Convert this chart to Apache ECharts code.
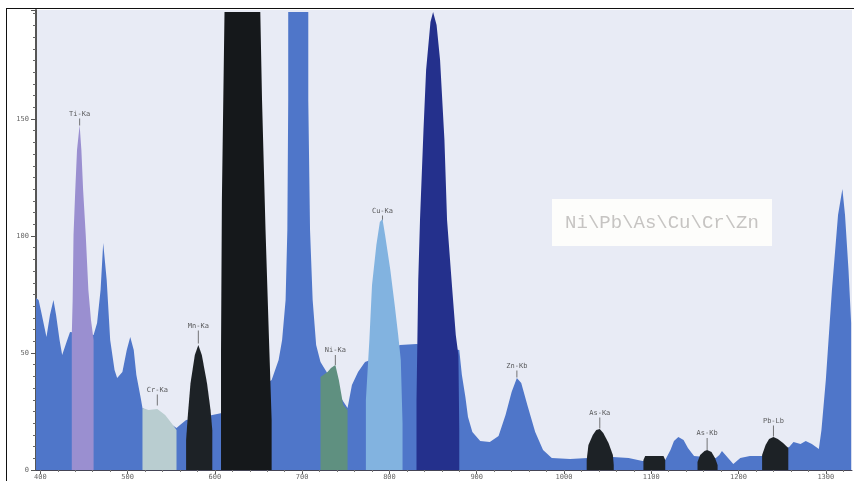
<!DOCTYPE html>
<html><head><meta charset="utf-8">
<script src="https://cdn.jsdelivr.net/npm/echarts@6/dist/echarts.min.js"></script>
<style>html,body{margin:0;padding:0;background:#fff}#c{width:854px;height:481px}
#f{position:absolute;left:6px;top:8px;right:0;bottom:0;border-left:1px solid #111;border-top:1px solid #111;pointer-events:none}</style>
</head><body><div id="c"></div><div id="f"></div>
<script>
const xTickLabels=[400,500,600,700,800,900,1000,1100,1200,1300];
const xMinorTicks=[400,420,440,460,480,500,520,540,560,580,600,620,640,660,680,700,720,740,760,780,800,820,840,860,880,900,920,940,960,980,1000,1020,1040,1060,1080,1100,1120,1140,1160,1180,1200,1220,1240,1260,1280,1300,1320];
const background=[[395,73.5],[398,72.7],[401,67.5],[407,56.8],[411,66.2],[415,72.7],[418,66.2],[422,55.6],[425,49.2],[430,54.7],[434,59],[461,57.7],[465,62.8],[469,76.9],[472,97],[476,81.2],[480,55.6],[485,42.7],[488,39.3],[494,41.9],[499,51.3],[503,56.8],[507,51.3],[510,40.6],[515,30.8],[517,26.5],[526,24.8],[543,21.4],[556,18],[560,19.2],[567,21.4],[583,22.2],[597,23.5],[608,24.4],[665,38.5],[673,47],[677,55.6],[681,72.7],[683,102.6],[684,158],[684,195.7],[707,195.7],[707,158],[709,102.6],[712,72.7],[716,53.4],[721,46.2],[728,41.9],[738,33.3],[746,29.9],[752,26.5],[757,36.3],[764,41.9],[772,46.2],[784,47.9],[812,53.4],[831,53.9],[880,51.3],[883,40.6],[887,31.2],[890,22.7],[895,16.2],[904,12.4],[915,12],[925,14.5],[933,23.5],[940,33.3],[946,39.3],[951,37.2],[958,27.8],[967,16.2],[976,8.5],[986,5.1],[1007,4.7],[1027,5.1],[1056,5.6],[1074,5.1],[1090,3.8],[1116,4.3],[1122,8.5],[1126,12.4],[1131,14.1],[1137,12.8],[1142,9.4],[1149,6],[1174,5.1],[1178,6.4],[1181,8.1],[1186,6],[1194,2.6],[1202,5.1],[1213,6],[1227,6],[1258,9.8],[1263,12],[1271,11.1],[1277,12.4],[1284,11.1],[1292,9],[1295,17.1],[1300,38.5],[1307,76.9],[1314,109],[1319,120.1],[1322,109],[1326,85.5],[1329,62.8]];
const tiKa=[[436,57.7],[437,72.7],[438,100.4],[440,119.7],[442,136.8],[445,147.5],[447,136.8],[449,119.7],[452,100.4],[455,76.9],[458,64.1],[461,55.6]];
const crKa=[[517,26.5],[524,25.6],[534,26.1],[543,23.5],[551,19.7],[556,17.1]];
const mnKa=[[567,12.8],[569,23.5],[572,37],[577,49.2],[581,53.4],[585,49.2],[591,37],[595,25.6],[597,17.1]];
const feKa=[[607,51.3],[608,115.4],[611,195.7],[652,195.7],[654,158],[658,102.6],[662,55.6],[665,21.4]];
const niKa=[[721,39.7],[729,41.9],[733,43.6],[738,44.9],[742,38.5],[747,27.8],[752,25.6]];
const cuKa=[[773,29.9],[777,55.6],[780,79],[785,96.2],[789,106],[792,107.3],[795,100.4],[801,85.5],[806,70.5],[810,57.7],[813,47],[815,20]];
const znKa=[[831,29.9],[832,55.6],[833,81.2],[835,106.9],[839,145.3],[842,171],[847,191.5],[850,195.7],[854,190.2],[858,175.2],[863,141],[866,106.9],[872,76.9],[876,57.7],[879,49.2],[880,17.1]];
const asKa=[[1026,4.3],[1028,10.7],[1033,15],[1037,17.1],[1041,17.5],[1045,15.8],[1051,11.5],[1056,6.4],[1057,2.1]];
const blackBand=[[1091,4.3],[1093,6],[1114,6],[1116,4.3]];
const asKb=[[1153,3.4],[1156,6.4],[1161,8.1],[1164,8.5],[1169,7.7],[1173,5.1],[1176,2.1]];
const pbLb=[[1227,6.4],[1231,10.7],[1235,13.2],[1240,14.1],[1245,13.2],[1251,11.5],[1257,9.4]];
const peakNames=['Ti-Ka','Cr-Ka','Mn-Ka','Ni-Ka','Cu-Ka','Zn-Kb','As-Ka','As-Kb','Pb-Lb'];
const peakX=[445,534,581,738,792,946,1041,1164,1240];
const peakTick=[148.7,29.9,56.8,47,107.7,41,20.1,11.1,16.7];
const tickHeight=[7,11,13,10,5,7,11,12,11];
const legendText='Ni\\Pb\\As\\Cu\\Cr\\Zn';

const area=(name,data,color)=>({name,type:'line',data,showSymbol:false,symbol:'none',
  lineStyle:{width:0,opacity:0},areaStyle:{color,opacity:1},silent:true,clip:true});
const chart=echarts.init(document.getElementById('c'),null,{renderer:'canvas'});
chart.setOption({
  animation:false,
  grid:{left:36,top:10,width:816,height:460,show:true,backgroundColor:'#e8ebf5',borderWidth:0},
  xAxis:[{type:'value',min:395,max:1330,splitLine:{show:false},
    axisLine:{show:true,lineStyle:{color:'#445',width:1}},
    axisTick:{show:true,customValues:xTickLabels,length:4,lineStyle:{color:'#555'}},
    axisLabel:{customValues:xTickLabels,formatter:v=>String(v),fontSize:7,color:'#666',margin:4,fontFamily:'DejaVu Sans Mono'}},
   {type:'value',min:395,max:1330,position:'bottom',splitLine:{show:false},axisLine:{show:false},
    axisTick:{show:true,customValues:xMinorTicks,length:2,lineStyle:{color:'#777'}},axisLabel:{show:false}}],
  yAxis:{type:'value',min:0,max:196.6,interval:50,splitLine:{show:false},
    axisLine:{show:true,lineStyle:{color:'#555',width:2}},
    axisTick:{show:true,length:5,lineStyle:{color:'#555'}},
    minorTick:{show:true,splitNumber:10,length:3,lineStyle:{color:'#666'}},
    axisLabel:{showMaxLabel:false,fontSize:7,color:'#666',margin:7,fontFamily:'DejaVu Sans Mono'}},
  series:[
    area('background',background,'#4f76c9'),
    area('Ti-Ka',tiKa,'#9a8fd0'),
    area('Cr-Ka',crKa,'#b9cdd0'),
    area('Mn-Ka',mnKa,'#1d2226'),
    area('Fe-Ka',feKa,'#15181b'),
    area('Ni-Ka',niKa,'#5f9080'),
    area('Cu-Ka',cuKa,'#82b3e0'),
    area('Zn-Ka',znKa,'#24308c'),
    area('As-Ka',asKa,'#1d2226'),
    area('band',blackBand,'#1d2226'),
    area('As-Kb',asKb,'#1d2226'),
    area('Pb-Lb',pbLb,'#1d2226'),
    {type:'scatter',silent:true,symbol:'rect',
     data:peakNames.map((n,i)=>({name:n,value:[peakX[i],peakTick[i]],symbolSize:[1,tickHeight[i]]})),
     itemStyle:{color:'#555'},
     label:{show:true,position:'top',distance:1,formatter:'{b}',fontSize:7,color:'#333',fontFamily:'DejaVu Sans Mono'}}
  ],
  graphic:[
    {type:'rect',z:50,shape:{x:552,y:199,width:220,height:47},style:{fill:'#fdfdfb'}},
    {type:'text',z:51,x:662,y:223,style:{text:legendText,align:'center',verticalAlign:'middle',
      font:'19px "Liberation Mono"',fill:'#c6c4c2'}}
  ]
});
</script></body></html>
